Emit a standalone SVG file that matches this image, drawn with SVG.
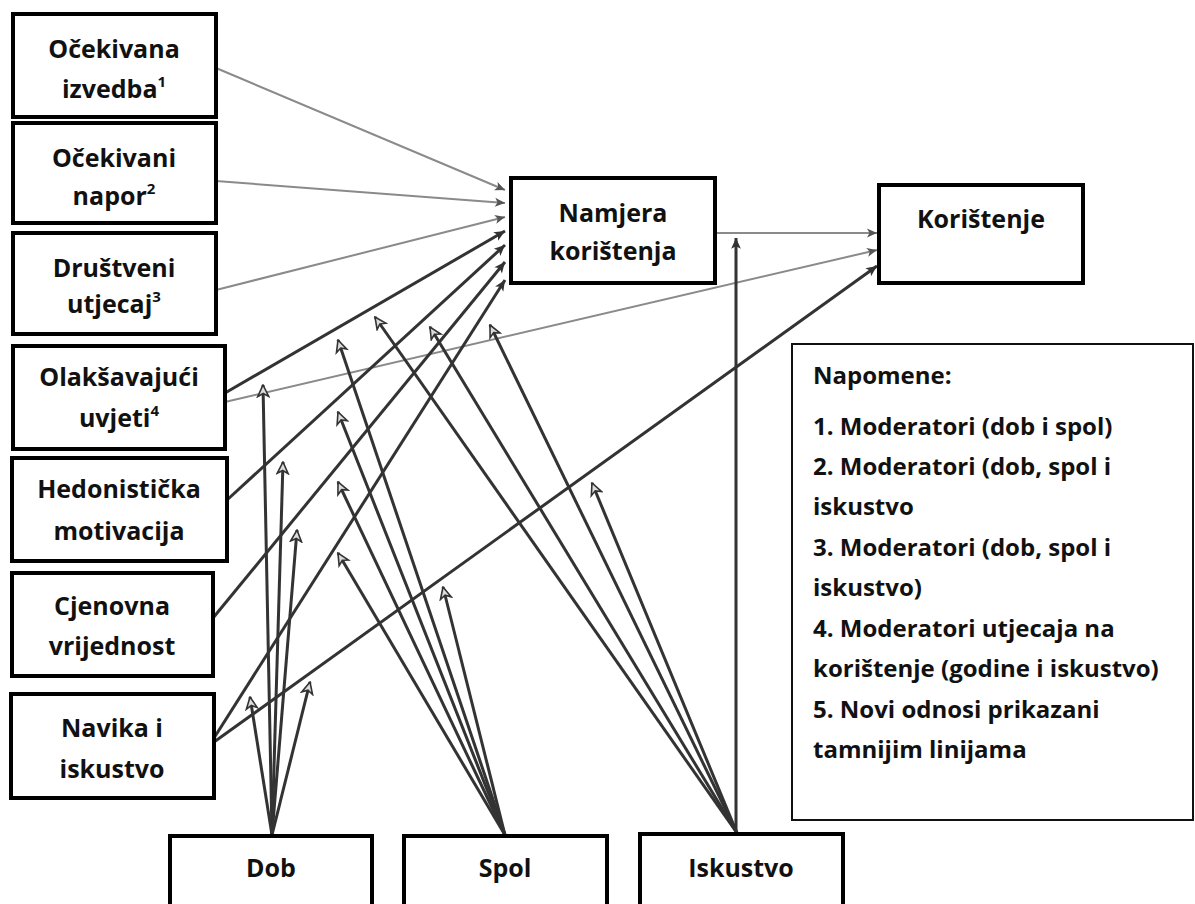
<svg xmlns="http://www.w3.org/2000/svg" width="1195" height="904" viewBox="0 0 1195 904">
<defs>
<style>
.box{fill:#fff;stroke:#000;stroke-width:4}
.note{fill:#fff;stroke:#111;stroke-width:2}
.t{font-family:"Open Sans","Noto Sans",sans-serif;font-weight:bold;font-size:25px;fill:#111;text-anchor:middle}
.n{font-family:"Open Sans","Noto Sans",sans-serif;font-weight:bold;font-size:24px;fill:#111}
.sup{font-size:15px}
.g{fill:none;stroke:#8a8a8a;stroke-width:2;marker-end:url(#mGray)}
.d{fill:none;stroke:#333;stroke-width:3;marker-end:url(#mDark)}
.m{fill:none;stroke:#333;stroke-width:3;marker-end:url(#mOpen)}
</style>
<marker id="mGray" viewBox="0 0 12 12" refX="11" refY="6" markerWidth="12" markerHeight="12" markerUnits="userSpaceOnUse" orient="auto"><path d="M1,1.5 L11,6 L1,10.5 L3.5,6 Z" fill="#555"/></marker>
<marker id="mDark" viewBox="0 0 12 12" refX="11" refY="6" markerWidth="13" markerHeight="13" markerUnits="userSpaceOnUse" orient="auto"><path d="M1,1.5 L11,6 L1,10.5 L3.5,6 Z" fill="#333"/></marker>
<marker id="mOpen" viewBox="0 0 14 14" refX="13" refY="7" markerWidth="14" markerHeight="14" markerUnits="userSpaceOnUse" orient="auto"><path d="M1.5,1.5 L13,7 L1.5,12.5 L4.5,7 Z" fill="#ddd" stroke="#333" stroke-width="1.6"/></marker>
</defs>
<rect width="1195" height="904" fill="#fff"/>
<g id="connectors">
<path class="g" d="M216,68 L505,190"/>
<path class="g" d="M216,181 L505,203"/>
<path class="g" d="M216,290 L505,217"/>
<path class="g" d="M225,402 L877,250"/>
<path class="g" d="M715,233 L877,233"/>
<path class="d" d="M225,393 L505,231"/>
<path class="d" d="M227,500 L505,245"/>
<path class="d" d="M213,618 L505,262"/>
<path class="d" d="M214,738 L505,280"/>
<path class="d" d="M214,742 L877,266"/>
<path class="d" d="M736,833 L736,238"/>
<path class="m" d="M272,835 L263,385"/>
<path class="m" d="M272,835 L283,462"/>
<path class="m" d="M272,835 L297,530"/>
<path class="m" d="M272,835 L250,697"/>
<path class="m" d="M272,835 L310,682"/>
<path class="m" d="M505,835 L338,340"/>
<path class="m" d="M505,835 L338,412"/>
<path class="m" d="M505,835 L338,482"/>
<path class="m" d="M505,835 L338,553"/>
<path class="m" d="M505,835 L443,587"/>
<path class="m" d="M737,833 L375,317"/>
<path class="m" d="M737,833 L430,327"/>
<path class="m" d="M737,833 L490,325"/>
<path class="m" d="M737,833 L592,483"/>
</g>
<g id="n_izvedba"><rect class="box" x="13" y="14" width="203" height="103"/><text class="t" x="114" y="58">Očekivana</text><text class="t" x="114" y="98">izvedba<tspan class="sup" dy="-11">1</tspan></text></g>
<g id="n_napor"><rect class="box" x="13" y="123" width="203" height="100"/><text class="t" x="114" y="167">Očekivani</text><text class="t" x="114" y="205">napor<tspan class="sup" dy="-11">2</tspan></text></g>
<g id="n_drustveni"><rect class="box" x="13" y="233" width="203" height="101"/><text class="t" x="114" y="277">Društveni</text><text class="t" x="114" y="313">utjecaj<tspan class="sup" dy="-11">3</tspan></text></g>
<g id="n_olaksavajuci"><rect class="box" x="13" y="346" width="212" height="103"/><text class="t" x="119" y="386">Olakšavajući</text><text class="t" x="119" y="427">uvjeti<tspan class="sup" dy="-11">4</tspan></text></g>
<g id="n_hedonisticka"><rect class="box" x="12" y="458" width="215" height="103"/><text class="t" x="119" y="498">Hedonistička</text><text class="t" x="119" y="540">motivacija</text></g>
<g id="n_cjenovna"><rect class="box" x="12" y="573" width="201" height="103"/><text class="t" x="112" y="615">Cjenovna</text><text class="t" x="112" y="655">vrijednost</text></g>
<g id="n_navika"><rect class="box" x="11" y="694" width="203" height="104"/><text class="t" x="112" y="737">Navika i</text><text class="t" x="112" y="778">iskustvo</text></g>
<g id="n_namjera"><rect class="box" x="511" y="178" width="204" height="105"/><text class="t" x="613" y="222">Namjera</text><text class="t" x="613" y="260">korištenja</text></g>
<g id="n_koristenje"><rect class="box" x="879" y="185" width="204" height="98"/><text class="t" x="981" y="228">Korištenje</text></g>
<g id="n_dob"><rect class="box" x="170" y="836" width="202" height="80"/><text class="t" x="271" y="877">Dob</text></g>
<g id="n_spol"><rect class="box" x="404" y="836" width="203" height="80"/><text class="t" x="505" y="877">Spol</text></g>
<g id="n_iskustvo"><rect class="box" x="640" y="834" width="203" height="82"/><text class="t" x="741" y="877">Iskustvo</text></g>
<g id="n_napomene"><rect class="note" x="792" y="344" width="401" height="476"/>
<text class="n" x="813" y="384">Napomene:</text>
<text class="n" x="813" y="435">1. Moderatori (dob i spol)</text>
<text class="n" x="813" y="475">2. Moderatori (dob, spol i</text>
<text class="n" x="813" y="515">iskustvo</text>
<text class="n" x="813" y="556">3. Moderatori (dob, spol i</text>
<text class="n" x="813" y="596">iskustvo)</text>
<text class="n" x="813" y="637">4. Moderatori utjecaja na</text>
<text class="n" x="813" y="677">korištenje (godine i iskustvo)</text>
<text class="n" x="813" y="718">5. Novi odnosi prikazani</text>
<text class="n" x="813" y="758">tamnijim linijama</text>
</g>
</svg>
